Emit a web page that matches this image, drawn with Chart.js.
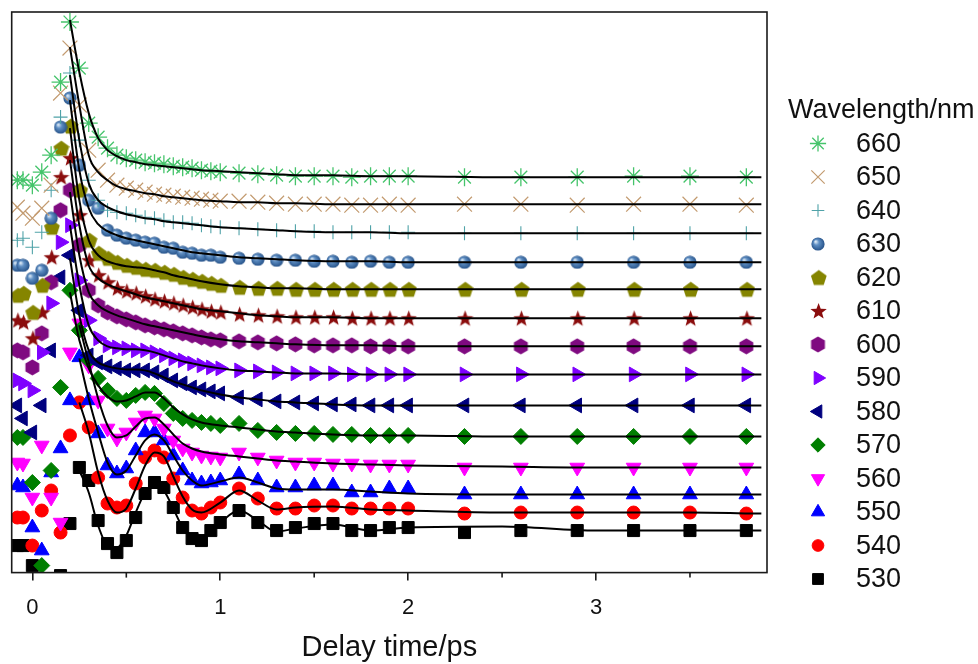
<!DOCTYPE html>
<html>
<head>
<meta charset="utf-8">
<script src="https://cdn.jsdelivr.net/npm/chart.js@4.4.1/dist/chart.umd.min.js"></script>
<style>
    html, body { margin: 0; padding: 0; background: #fff; }
    #wrap { width: 978px; height: 664px; }
</style>
</head>
<body>
<div id="wrap"><canvas id="kinetics" width="978" height="664"></canvas></div>
<script>
// Delay times (ps) of the measured points and of the fitted curves
const delays = [-0.08, -0.05, 0, 0.05, 0.1, 0.15, 0.2, 0.25, 0.3, 0.35,
    0.4, 0.45, 0.5, 0.55, 0.6, 0.65, 0.7, 0.75, 0.8, 0.85,
    0.9, 0.95, 1.0, 1.1, 1.2, 1.3, 1.4, 1.5, 1.6, 1.7,
    1.8, 1.9, 2.0, 2.3, 2.6, 2.9, 3.2, 3.5, 3.8];
const fitDelays = [0.2, 0.25, 0.3, 0.35, 0.4, 0.45, 0.5, 0.55, 0.6, 0.65,
    0.7, 0.75, 0.8, 0.85, 0.9, 1.0, 1.1, 1.2, 1.3, 1.4,
    1.6, 1.8, 2.0, 2.5, 3.0, 3.5, 3.88];
const xTicks = [0, 1, 2, 3];
const xMinorTicks = [0.5, 1.5, 2.5, 3.5];
const wavelengths = ['660', '650', '640', '630', '620', '610', '600', '590', '580', '570', '560', '550', '540', '530'];

// Offset kinetic traces (arb. units)
const sig660 = [392, 392, 387, 400, 417, 490, 550, 504, 449, 435, 424, 417, 414, 412, 410, 409, 408, 406, 405, 404, 402, 401, 400, 399, 398, 397, 396, 396, 396, 395, 396, 396, 396, 395, 395, 395, 396, 396, 395];
const sig650 = [365, 359, 354, 364, 387, 479, 524, 467, 422, 402, 392, 387, 384, 382, 380, 378, 377, 376, 375, 374, 373, 372, 371, 371, 370, 369, 368, 368, 368, 367, 367, 368, 367, 368, 368, 367, 368, 368, 367];
const sig640 = [332, 334, 325, 340, 382, 455, 499, 432, 392, 372, 362, 360, 359, 357, 355, 354, 352, 350, 350, 349, 347, 346, 345, 344, 343, 342, 341, 341, 340, 340, 340, 340, 340, 339, 339, 339, 339, 339, 339];
const sig630 = [307, 307, 294, 302, 354, 445, 474, 407, 372, 364, 342, 337, 334, 332, 330, 329, 325, 324, 320, 319, 317, 317, 315, 314, 313, 312, 312, 311, 311, 310, 311, 310, 310, 310, 310, 310, 310, 310, 310];
const sig620 = [277, 279, 260, 287, 345, 424, 446, 382, 332, 319, 314, 310, 307, 305, 303, 302, 300, 298, 295, 293, 291, 289, 287, 285, 284, 284, 283, 283, 283, 283, 283, 283, 283, 283, 283, 283, 283, 283, 283];
const sig610 = [252, 250, 234, 260, 315, 395, 414, 357, 312, 297, 290, 284, 281, 279, 276, 273, 271, 269, 267, 265, 263, 261, 260, 258, 257, 256, 255, 255, 255, 254, 254, 254, 254, 254, 254, 254, 254, 254, 254];
const sig600 = [222, 220, 205, 239, 290, 362, 382, 327, 282, 267, 260, 256, 253, 250, 247, 245, 243, 241, 239, 237, 235, 233, 232, 231, 230, 229, 228, 227, 227, 227, 226, 226, 226, 226, 226, 226, 226, 226, 226];
const sig590 = [192, 189, 182, 220, 269, 330, 347, 292, 252, 234, 227, 225, 224, 222, 222, 220, 217, 214, 212, 209, 207, 205, 204, 202, 201, 200, 199, 199, 199, 198, 198, 198, 198, 198, 198, 198, 198, 198, 198];
const sig580 = [167, 154, 140, 167, 222, 295, 317, 262, 217, 210, 206, 204, 202, 202, 202, 200, 197, 192, 189, 185, 183, 181, 179, 175, 173, 171, 170, 169, 168, 168, 167, 167, 167, 167, 167, 167, 167, 167, 167];
const sig570 = [135, 135, 90, 7, 102, 185, 282, 242, 212, 194, 182, 174, 172, 177, 180, 179, 169, 159, 154, 152, 150, 149, 147, 149, 142, 140, 139, 139, 138, 138, 137, 137, 137, 136, 136, 136, 136, 136, 136];
const sig560 = [110, 109, 75, 127, 75, 50, 220, 249, 207, 172, 144, 134, 140, 150, 157, 154, 144, 132, 124, 120, 117, 116, 115, 120, 115, 112, 110, 110, 109, 109, 108, 108, 108, 105, 105, 105, 105, 105, 105];
const sig550 = [87, 85, 45, 22, 100, 124, 172, 215, 172, 139, 107, 99, 104, 122, 140, 140, 132, 117, 102, 92, 89, 90, 92, 98, 92, 85, 85, 87, 87, 80, 80, 84, 84, 78, 78, 78, 78, 78, 78];
const sig540 = [55, 55, 27, 62, 82, 40, 137, 170, 145, 95, 69, 65, 67, 89, 115, 122, 115, 94, 75, 62, 59, 65, 70, 84, 74, 64, 64, 67, 67, 64, 64, 64, 64, 59, 60, 60, 60, 60, 59];
const sig530 = [27, 27, 7, -13, -18, -3, 49, 105, 92, 52, 29, 20, 32, 55, 79, 90, 85, 65, 45, 34, 32, 42, 50, 62, 50, 42, 45, 49, 49, 42, 42, 45, 45, 40, 42, 42, 42, 42, 42];

// Fitted curves (same units)
const fit660 = [552, 500, 459, 434, 422, 416, 412, 410, 408, 407, 406, 405, 404, 403, 402, 401, 400, 399, 398, 397, 397, 396, 396, 395, 395, 395, 395];
const fit650 = [525, 467, 417, 400, 392, 386, 383, 381, 379, 378, 376, 375, 374, 373, 372, 371, 370, 370, 369, 369, 368, 368, 368, 368, 368, 368, 368];
const fit640 = [497, 432, 389, 372, 365, 361, 358, 356, 354, 353, 351, 350, 349, 348, 347, 345, 344, 343, 342, 341, 340, 340, 339, 339, 339, 339, 339];
const fit630 = [472, 402, 364, 348, 341, 337, 334, 332, 330, 328, 326, 324, 322, 320, 319, 317, 315, 314, 313, 312, 311, 311, 310, 310, 310, 310, 310];
const fit620 = [444, 372, 332, 317, 311, 308, 306, 305, 304, 302, 300, 297, 295, 293, 291, 288, 286, 285, 284, 284, 283, 283, 283, 283, 283, 283, 283];
const fit610 = [412, 347, 307, 294, 288, 284, 281, 278, 275, 273, 271, 269, 267, 265, 263, 261, 259, 257, 256, 255, 255, 254, 254, 254, 254, 254, 254];
const fit600 = [380, 317, 280, 267, 261, 257, 254, 251, 248, 246, 244, 242, 240, 238, 236, 233, 231, 230, 229, 228, 227, 227, 226, 226, 226, 226, 226];
const fit590 = [347, 287, 247, 232, 226, 224, 223, 223, 222, 220, 217, 214, 211, 209, 207, 204, 202, 201, 200, 199, 199, 198, 198, 198, 198, 198, 198];
const fit580 = [314, 257, 222, 210, 206, 204, 203, 203, 202, 199, 195, 191, 188, 185, 182, 178, 175, 173, 171, 170, 168, 167, 167, 167, 167, 167, 167];
const fit570 = [280, 232, 204, 187, 176, 171, 172, 176, 180, 180, 174, 165, 158, 153, 150, 147, 145, 143, 141, 140, 138, 137, 137, 136, 136, 136, 136];
const fit560 = [null, 247, 210, 174, 147, 135, 137, 146, 154, 155, 148, 138, 129, 124, 121, 118, 116, 114, 112, 111, 109, 108, 107, 106, 105, 105, 105];
const fit550 = [null, 214, 174, 140, 110, 98, 102, 117, 132, 138, 132, 117, 102, 92, 87, 91, 95, 90, 84, 83, 83, 81, 79, 78, 78, 78, 78];
const fit540 = [null, 170, 140, 100, 72, 60, 64, 84, 107, 120, 116, 96, 76, 63, 60, 70, 82, 72, 63, 65, 66, 63, 62, 60, 60, 60, 59];
const fit530 = [null, 102, 80, 47, 27, 25, 37, 60, 80, 88, 82, 64, 45, 35, 34, 50, 62, 52, 41, 44, 48, 42, 45, 46, 42, 42, 42];

const signals = [sig660, sig650, sig640, sig630, sig620, sig610, sig600, sig590, sig580, sig570, sig560, sig550, sig540, sig530];
const fits = [fit660, fit650, fit640, fit630, fit620, fit610, fit600, fit590, fit580, fit570, fit560, fit550, fit540, fit530];

const FONT = '"Liberation Sans", Arial, sans-serif';

// Small canvases used as custom point styles
function shapeCanvas(size, paint) {
    const c = document.createElement('canvas');
    c.width = size;
    c.height = size;
    paint(c.getContext('2d'), size / 2);
    return c;
}

function polygonPath(g, c, n, r, inner) {
    g.beginPath();
    const steps = inner ? n * 2 : n;
    for (let k = 0; k < steps; k++) {
        const a = k * 2 * Math.PI / steps;
        const rr = inner && k % 2 ? inner : r;
        const px = c + rr * Math.sin(a), py = c - rr * Math.cos(a);
        if (k === 0) g.moveTo(px, py); else g.lineTo(px, py);
    }
    g.closePath();
}

const ball = shapeCanvas(14, (g, c) => {
    const grad = g.createRadialGradient(c - 2.5, c - 2.5, 0.5, c, c, 7);
    grad.addColorStop(0, '#dbe8f5');
    grad.addColorStop(0.35, '#5f8fc4');
    grad.addColorStop(1, '#234f86');
    g.fillStyle = grad;
    g.beginPath();
    g.arc(c, c, 6.6, 0, Math.PI * 2);
    g.fill();
});
const pentagon = shapeCanvas(18, (g, c) => {
    g.fillStyle = '#858500';
    polygonPath(g, c + 0.8, 5, 8.3);
    g.fill();
});
const star5 = shapeCanvas(18, (g, c) => {
    g.fillStyle = '#8b0d0d';
    polygonPath(g, c + 0.6, 5, 8.6, 3.6);
    g.fill();
});
const hexagon = shapeCanvas(17, (g, c) => {
    g.fillStyle = '#7f0a80';
    polygonPath(g, c, 6, 8);
    g.fill();
});

const markerStyles = [
    { style: 'star', color: '#45c46b', radius: 9, border: 1.3 },
    { style: 'crossRot', color: '#c39b70', radius: 10.5, border: 1.2 },
    { style: 'cross', color: '#4fa2a8', radius: 7, border: 1.1 },
    { style: ball, color: '#3a6ea5', radius: 7, border: 0 },
    { style: pentagon, color: '#858500', radius: 8, border: 0 },
    { style: star5, color: '#8b0d0d', radius: 8, border: 0 },
    { style: hexagon, color: '#7f0a80', radius: 8, border: 0 },
    { style: 'triangle', rotation: 90, color: '#7f00ff', radius: 8.5, border: 1 },
    { style: 'triangle', rotation: -90, color: '#00007f', radius: 8.5, border: 1 },
    { style: 'rectRot', color: '#007f00', radius: 8, border: 1 },
    { style: 'triangle', rotation: 180, color: '#ff00ff', radius: 8.5, border: 1 },
    { style: 'triangle', color: '#0000ff', radius: 8.5, border: 1 },
    { style: 'circle', color: '#ff0000', radius: 6.5, border: 1 },
    { style: 'rect', color: '#000000', radius: 8.5, border: 1 }
];

const pointSets = wavelengths.map((wl, i) => {
    const m = markerStyles[i];
    return {
        label: wl,
        data: delays.map((t, k) => ({ x: t, y: signals[i][k] })),
        showLine: false,
        order: 1,
        pointStyle: m.style,
        pointRotation: m.rotation || 0,
        pointRadius: m.radius,
        pointHoverRadius: m.radius,
        pointBackgroundColor: m.color,
        pointBorderColor: m.color,
        pointBorderWidth: m.border,
        clip: 0
    };
});

const fitSets = wavelengths.map((wl, i) => ({
    label: 'fit ' + wl,
    data: fitDelays.map((t, k) => ({ x: t, y: fits[i][k] })).filter(p => p.y !== null),
    showLine: true,
    order: 0,
    borderColor: '#000',
    borderWidth: 2,
    pointRadius: 0,
    pointHoverRadius: 0,
    cubicInterpolationMode: 'monotone',
    clip: 0
}));

// Frame around the plot and the short minor ticks
const framePlugin = {
    id: 'frame',
    afterDatasetsDraw(chart) {
        const { ctx, chartArea: a, scales } = chart;
        ctx.save();
        ctx.strokeStyle = '#1a1a1a';
        ctx.lineWidth = 1.6;
        ctx.strokeRect(a.left, a.top, a.right - a.left, a.bottom - a.top);
        xMinorTicks.forEach(v => {
            const px = scales.x.getPixelForValue(v);
            ctx.beginPath();
            ctx.moveTo(px, a.bottom);
            ctx.lineTo(px, a.bottom + 5);
            ctx.stroke();
        });
        ctx.restore();
    }
};

// Legend on the right, with the same markers
const sideLegend = {
    id: 'sideLegend',
    afterDraw(chart) {
        const ctx = chart.ctx;
        ctx.save();
        ctx.font = '27px ' + FONT;
        ctx.textBaseline = 'middle';
        ctx.fillStyle = '#111';
        ctx.fillText('Wavelength/nm', 788, 111);
        wavelengths.forEach((wl, i) => {
            const m = markerStyles[i];
            const y = 143.5 + i * 33.5;
            ctx.fillStyle = m.color;
            ctx.strokeStyle = m.color;
            ctx.lineWidth = m.border;
            Chart.helpers.drawPoint(ctx, {
                pointStyle: m.style,
                rotation: m.rotation || 0,
                radius: m.radius * 0.9,
                borderWidth: m.border
            }, 818, y);
            ctx.fillStyle = '#111';
            ctx.fillText(wl, 856, y + 1);
        });
        ctx.restore();
    }
};

new Chart(document.getElementById('kinetics'), {
    type: 'scatter',
    data: { datasets: [...fitSets, ...pointSets] },
    options: {
        responsive: false,
        animation: false,
        layout: { padding: { left: 10, top: 12, right: 211, bottom: 2 } },
        plugins: {
            legend: { display: false },
            tooltip: { enabled: false }
        },
        scales: {
            x: {
                type: 'linear',
                min: -0.11,
                max: 3.91,
                afterBuildTicks: scale => {
                    scale.ticks = xTicks.map(v => ({ value: v }));
                },
                ticks: {
                    color: '#111',
                    font: { family: FONT, size: 22 },
                    padding: 14,
                    maxRotation: 0
                },
                grid: {
                    drawOnChartArea: false,
                    drawTicks: true,
                    tickLength: 8,
                    color: '#1a1a1a',
                    lineWidth: 1.6
                },
                border: { display: false },
                title: {
                    display: true,
                    text: 'Delay time/ps',
                    color: '#111',
                    font: { family: FONT, size: 29, lineHeight: 1.0 },
                    padding: { top: -2, bottom: 0 }
                }
            },
            y: { display: false, min: 0, max: 560 }
        }
    },
    plugins: [framePlugin, sideLegend]
});
</script>
</body>
</html>
